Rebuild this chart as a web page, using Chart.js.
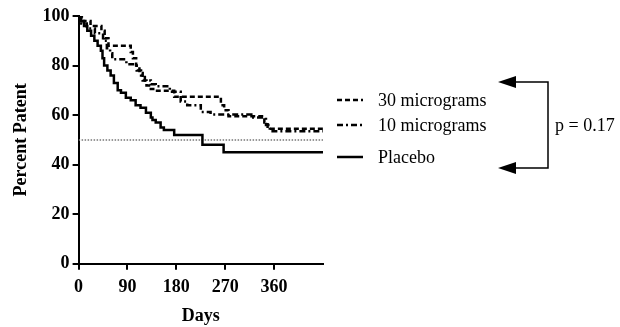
<!DOCTYPE html>
<html>
<head>
<meta charset="utf-8">
<script src="https://cdn.jsdelivr.net/npm/chart.js@4/dist/chart.umd.min.js"></script>
<style>
html, body { margin: 0; padding: 0; background: #fff; }
</style>
</head>
<body>
<canvas id="myChart" width="620" height="327"></canvas>
<script>
// Kaplan-Meier steps (day of drop, percent after drop)
const dosis30Days   = [0, 6, 22, 42, 48, 55, 96, 100, 106, 112, 118, 125, 133, 142, 176, 262, 268, 276, 342, 348, 450];
const dosis30Values = [100, 98, 96, 94, 91, 88, 85.5, 83, 80, 77, 74, 72, 70.5, 69.8, 67.4, 64, 62, 59.5, 57, 54.5, 54.5];

const dosis10Days   = [0, 5, 15, 30, 45, 52, 58, 62, 88, 107, 115, 122, 133, 142, 168, 188, 200, 225, 243, 318, 345, 352, 450];
const dosis10Values = [100, 97, 95, 93, 90, 87, 85, 82.5, 80.5, 78, 76, 74, 72.5, 71.7, 69.4, 65.5, 64, 61.3, 60.3, 59, 56, 53.5, 53.5];

const placeboDays   = [0, 4, 10, 16, 23, 29, 35, 41, 44, 47, 53, 59, 65, 72, 78, 87, 96, 105, 114, 124, 133, 136, 142, 151, 157, 176, 228, 267, 450];
const placeboValues = [100, 98, 96, 94, 92, 90, 88, 86, 83, 80, 78, 76, 73, 70, 69, 67, 66, 64, 63, 61, 59, 58, 57, 55, 54, 52, 48, 45, 45];

const medianDays   = [0, 450];
const medianValues = [50, 50];

const dayTicks = [0, 90, 180, 270, 360];
const seriesNames = ['30 micrograms', '10 micrograms', 'Placebo'];
const pValue = 'p = 0.17';

const serif = 'Liberation Serif, Times New Roman, serif';

const toPoints = (days, values) =>
{
    return days.map((d, i) => ({ x: d, y: values[i] }));
};

// legend with line samples and the bracket with the p value
const sideNotes =
{
    id: 'sideNotes',
    afterDraw(chart)
    {
        const ctx = chart.ctx;
        const rows = [100, 125, 157];
        ctx.save();
        ctx.textBaseline = 'middle';
        ctx.textAlign = 'left';
        ctx.font = '18px ' + serif;
        ctx.fillStyle = '#000';

        for (let i = 0; i < 3; i++)
        {
            const ds = chart.data.datasets[i];
            ctx.beginPath();
            ctx.strokeStyle = ds.borderColor;
            ctx.lineWidth = ds.borderWidth;
            ctx.setLineDash(ds.borderDash || []);
            ctx.moveTo(337, rows[i]);
            ctx.lineTo(363, rows[i]);
            ctx.stroke();
            ctx.fillText(seriesNames[i], 378, rows[i] + 1);
        }

        // bracket
        const top = 82, bottom = 168, tip = 498, vx = 548;
        ctx.setLineDash([]);
        ctx.lineWidth = 1.5;
        ctx.beginPath();
        ctx.moveTo(tip + 14, top);
        ctx.lineTo(vx, top);
        ctx.lineTo(vx, bottom);
        ctx.lineTo(tip + 14, bottom);
        ctx.stroke();

        [top, bottom].forEach((y) =>
        {
            ctx.beginPath();
            ctx.moveTo(tip, y);
            ctx.lineTo(tip + 18, y - 6);
            ctx.lineTo(tip + 18, y + 6);
            ctx.closePath();
            ctx.fill();
        });

        ctx.fillText(pValue, 555, 126);
        ctx.restore();
    }
};

var ctx = document.getElementById('myChart');

const data =
{
    datasets:
    [
        {
            label: seriesNames[0],
            data: toPoints(dosis30Days, dosis30Values),
            borderColor: '#000',
            borderWidth: 2.5,
            borderDash: [5, 3]
        },
        {
            label: seriesNames[1],
            data: toPoints(dosis10Days, dosis10Values),
            borderColor: '#000',
            borderWidth: 2.5,
            borderDash: [6, 3, 2, 3]
        },
        {
            label: seriesNames[2],
            data: toPoints(placeboDays, placeboValues),
            borderColor: '#000',
            borderWidth: 2.5
        },
        {
            label: 'median',
            data: toPoints(medianDays, medianValues),
            borderColor: '#777',
            borderWidth: 1.5,
            borderDash: [1.5, 1.5],
            stepped: false
        }
    ]
};

new Chart(ctx,
{
    type: 'line',
    data: data,
    plugins: [sideNotes],
    options:
    {
        responsive: false,
        animation: false,
        layout:
        {
            padding: { left: 11, right: 297, top: 16, bottom: 0 }
        },
        elements:
        {
            point: { radius: 0 },
            line: { stepped: true, tension: 0, fill: false }
        },
        plugins:
        {
            legend: { display: false },
            tooltip: { enabled: false }
        },
        scales:
        {
            x:
            {
                type: 'linear',
                min: 0,
                max: 450,
                afterBuildTicks: (axis) =>
                {
                    axis.ticks = dayTicks.map((v) => ({ value: v }));
                },
                ticks:
                {
                    color: '#000',
                    font: { family: serif, size: 18, weight: 'bold' },
                    padding: 7,
                    maxRotation: 0
                },
                grid:
                {
                    drawOnChartArea: false,
                    drawTicks: true,
                    tickLength: 6,
                    color: '#000',
                    lineWidth: 2
                },
                border: { color: '#000', width: 2 },
                title:
                {
                    display: true,
                    text: 'Days',
                    color: '#000',
                    font: { family: serif, size: 18, weight: 'bold' },
                    padding: { top: 0, bottom: 0 }
                }
            },
            y:
            {
                min: 0,
                max: 100,
                ticks:
                {
                    stepSize: 20,
                    color: '#000',
                    font: { family: serif, size: 18, weight: 'bold' },
                    padding: 3
                },
                grid:
                {
                    drawOnChartArea: false,
                    drawTicks: true,
                    tickLength: 6,
                    color: '#000',
                    lineWidth: 2
                },
                border: { color: '#000', width: 2 },
                title:
                {
                    display: true,
                    text: 'Percent Patent',
                    color: '#000',
                    font: { family: serif, size: 18, weight: 'bold' },
                    padding: { top: 0, bottom: 7 }
                }
            }
        }
    }
});
</script>
</body>
</html>
